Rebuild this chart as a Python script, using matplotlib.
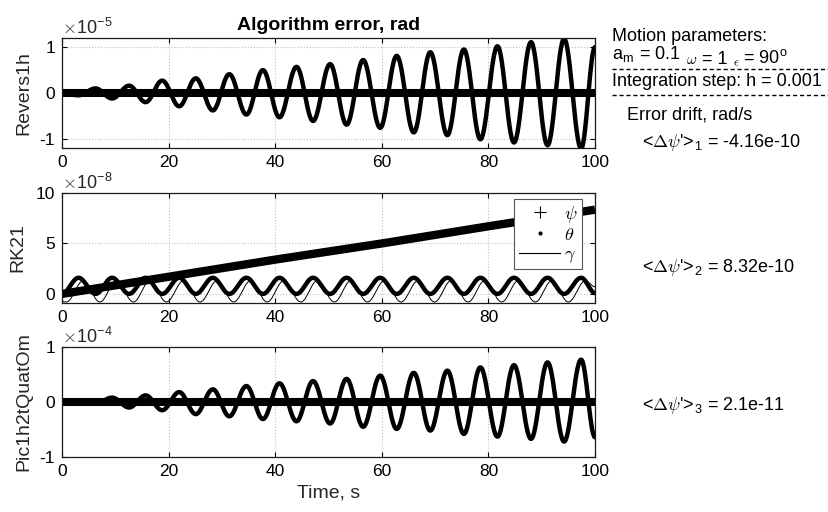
import numpy as np
import matplotlib
matplotlib.use('Agg')
import matplotlib.pyplot as plt
from matplotlib.lines import Line2D

plt.rcParams['font.family'] = ['Liberation Sans', 'DejaVu Sans']
plt.rcParams['mathtext.fontset'] = 'cm'
plt.rcParams['axes.unicode_minus'] = False

# extremum times of the oscillations, s
t_ext = [0.0, 3.1, 6.3, 9.4, 12.6, 15.7, 18.8, 22.0, 25.1, 28.3, 31.4, 34.6,
         37.7, 40.8, 44.0, 47.1, 50.3, 53.4, 56.5, 59.7, 62.8, 66.0, 69.1,
         72.3, 75.4, 78.5, 81.7, 84.8, 88.0, 91.1, 94.2, 97.4, 100.0]
# Revers1h, theta (x1e-5)
theta1 = [0.0, -0.05, 0.10, -0.12, 0.16, -0.20, 0.27, -0.29, 0.32, -0.38, 0.41,
          -0.47, 0.50, -0.53, 0.57, -0.61, 0.63, -0.69, 0.72, -0.76, 0.81,
          -0.86, 0.89, -0.92, 0.95, -1.01, 1.02, -1.08, 1.11, -1.14, 1.18,
          -1.21, 1.00]
# Pic1h2tQuatOm, theta (x1e-4)
theta3 = [0.0, 0.02, -0.03, 0.08, -0.10, 0.12, -0.15, 0.18, -0.22, 0.23, -0.26,
          0.29, -0.31, 0.34, -0.35, 0.38, -0.39, 0.42, -0.45, 0.48, -0.49,
          0.53, -0.52, 0.57, -0.58, 0.63, -0.63, 0.67, -0.67, 0.72, -0.72,
          0.77, -0.64]
# RK21, theta (x1e-8)
theta2 = [0.0, 1.6, 0.0, 1.6, 0.0, 1.6, 0.0, 1.6, 0.0, 1.6, 0.0, 1.6, 0.0,
          1.6, 0.0, 1.6, 0.0, 1.6, 0.0, 1.6, 0.0, 1.6, 0.0, 1.6, 0.0, 1.6,
          0.0, 1.6, 0.0, 1.6, 0.0, 1.6, 0.1]
# RK21, gamma (x1e-8)
t_gam = [0.0, 0.8, 4.0, 7.1, 10.2, 13.4, 16.5, 19.6, 22.8, 25.9, 29.1, 32.2,
         35.4, 38.5, 41.6, 44.8, 47.9, 51.1, 54.2, 57.3, 60.5, 63.6, 66.8,
         69.9, 73.0, 76.2, 79.3, 82.5, 85.6, 88.8, 91.9, 95.0, 98.2, 100.0]
gamma2 = [-0.75, -0.8, 1.3, -0.8, 1.3, -0.8, 1.3, -0.8, 1.3, -0.8, 1.3, -0.8,
          1.3, -0.8, 1.3, -0.8, 1.3, -0.8, 1.3, -0.8, 1.3, -0.8, 1.3, -0.8,
          1.3, -0.8, 1.3, -0.8, 1.3, -0.8, 1.3, -0.8, 1.3, 0.7]
# psi (drift lines)
t_psi = [0, 20, 40, 60, 80, 100]
psi1 = [0, 0, 0, 0, 0, 0]
psi2 = [0.0, 1.7, 3.4, 5.0, 6.7, 8.35]
psi3 = [0, 0, 0, 0, 0, 0]

names = ['Revers1h', 'RK21', 'Pic1h2tQuatOm']
exps = ['-5', '-8', '-4']
drift = ['-4.16e-10', '8.32e-10', '2.1e-11']


def wave(te, ye, n=30):
    # half-cosine segments between read extrema
    xs, ys = [], []
    for i in range(len(te) - 1):
        s = np.linspace(0, 1, n, endpoint=False)
        xs.append(te[i] + (te[i + 1] - te[i]) * s)
        ys.append(ye[i] + (ye[i + 1] - ye[i]) * (1 - np.cos(np.pi * s)) / 2)
    xs.append([te[-1]])
    ys.append([ye[-1]])
    return np.concatenate(xs), np.concatenate(ys)


W, H = 829, 512
fig = plt.figure(figsize=(W / 100, H / 100), dpi=100)


def fx(px):
    return px / W


def fy(py):
    return 1 - py / H


tops = [38, 193, 347]
ylims = [(-1.2, 1.2), (-0.9, 10), (-1, 1)]
yticks = [[-1, 0, 1], [0, 5, 10], [-1, 0, 1]]
lab_x = [-0.056, -0.066, -0.056]
axes = []
for i in range(3):
    ax = fig.add_axes([fx(62), fy(tops[i] + 110), 533 / W, 110 / H])
    ax.set_xlim(0, 100)
    ax.set_ylim(*ylims[i])
    ax.set_xticks([0, 20, 40, 60, 80, 100])
    ax.set_yticks(yticks[i])
    ax.grid(True, color='#c0c0c0', ls=':', lw=0.8)
    ax.tick_params(direction='in', top=True, right=True, length=3.5,
                   labelsize=12.5, pad=5, width=0.8)
    for sp in ax.spines.values():
        sp.set_linewidth(0.9)
        sp.set_color('#1a1a1a')
    ax.set_ylabel(names[i], fontsize=14, color='#262626')
    ax.yaxis.set_label_coords(lab_x[i], 0.5)
    ax.text(0, 1.0, r'$\times$10$^{\mathregular{' + exps[i] + '}}$',
            transform=ax.transAxes, fontsize=13, va='bottom', ha='left',
            color='#262626')
    axes.append(ax)

ax1, ax2, ax3 = axes

x, y = wave(t_ext, theta1)
ax1.plot(t_psi, psi1, color='k', lw=5.8, solid_capstyle='butt')
ax1.plot(x, y, color='k', lw=3.2)

x, y = wave(t_gam, gamma2)
ax2.plot(x, y, color='k', lw=0.7)
x, y = wave(t_ext, theta2)
ax2.plot(x, y, color='k', lw=3.2)
ax2.plot(t_psi, psi2, color='k', lw=6.0, solid_capstyle='butt')

x, y = wave(t_ext, theta3)
ax3.plot(t_psi, psi3, color='k', lw=5.8, solid_capstyle='butt')
ax3.plot(x, y, color='k', lw=3.2)

ax3.set_xlabel('Time, s', fontsize=14, color='#262626')
ax1.set_title('Algorithm error, rad', fontsize=14, fontweight='bold', pad=6)

handles = [Line2D([], [], color='k', marker='+', ls='none', ms=8, mew=0.8),
           Line2D([], [], color='k', marker='.', ls='none', ms=4),
           Line2D([], [], color='k', lw=0.8)]
leg = ax2.legend(handles, [r'$\psi$', r'$\theta$', r'$\gamma$'],
                 loc='upper right', bbox_to_anchor=(0.9756, 0.945),
                 borderaxespad=0, fontsize=13, handlelength=2.3,
                 handletextpad=0.2, labelspacing=0.12, borderpad=0.25,
                 fancybox=False, framealpha=1, edgecolor='#555555')
leg.get_frame().set_linewidth(0.8)

# right-hand annotation block
fs = 13
fig.text(fx(612), fy(41), 'Motion parameters:', fontsize=fs, va='baseline')
fig.text(fx(612), fy(60), r'a$_{\mathregular{m}}$ = 0.1', fontsize=fs,
         va='baseline')
fig.text(fx(686), fy(64), r'$\omega$', fontsize=11, va='baseline')
fig.text(fx(702), fy(64), '= 1', fontsize=fs, va='baseline')
fig.text(fx(733), fy(66), r'$\epsilon$', fontsize=9, va='baseline')
fig.text(fx(743), fy(64), r'= 90$^{\mathregular{o}}$', fontsize=fs,
         va='baseline')
fig.text(fx(612), fy(86), 'Integration step: h = 0.001', fontsize=fs,
         va='baseline')
for py in (69, 95):
    fig.add_artist(Line2D([fx(612), fx(828)], [fy(py), fy(py)],
                          transform=fig.transFigure, color='k', lw=1,
                          ls=(0, (3, 2))))
fig.text(fx(627), fy(120), 'Error drift, rad/s', fontsize=fs, va='baseline')
for i, py in enumerate([147, 272, 410]):
    fig.text(fx(642), fy(py),
             r'<$\Delta\psi$' + "'>" + r'$_{\mathregular{' + str(i + 1) +
             '}}$ = ' + drift[i], fontsize=fs, va='baseline')

fig.savefig('out.png', dpi=100)
